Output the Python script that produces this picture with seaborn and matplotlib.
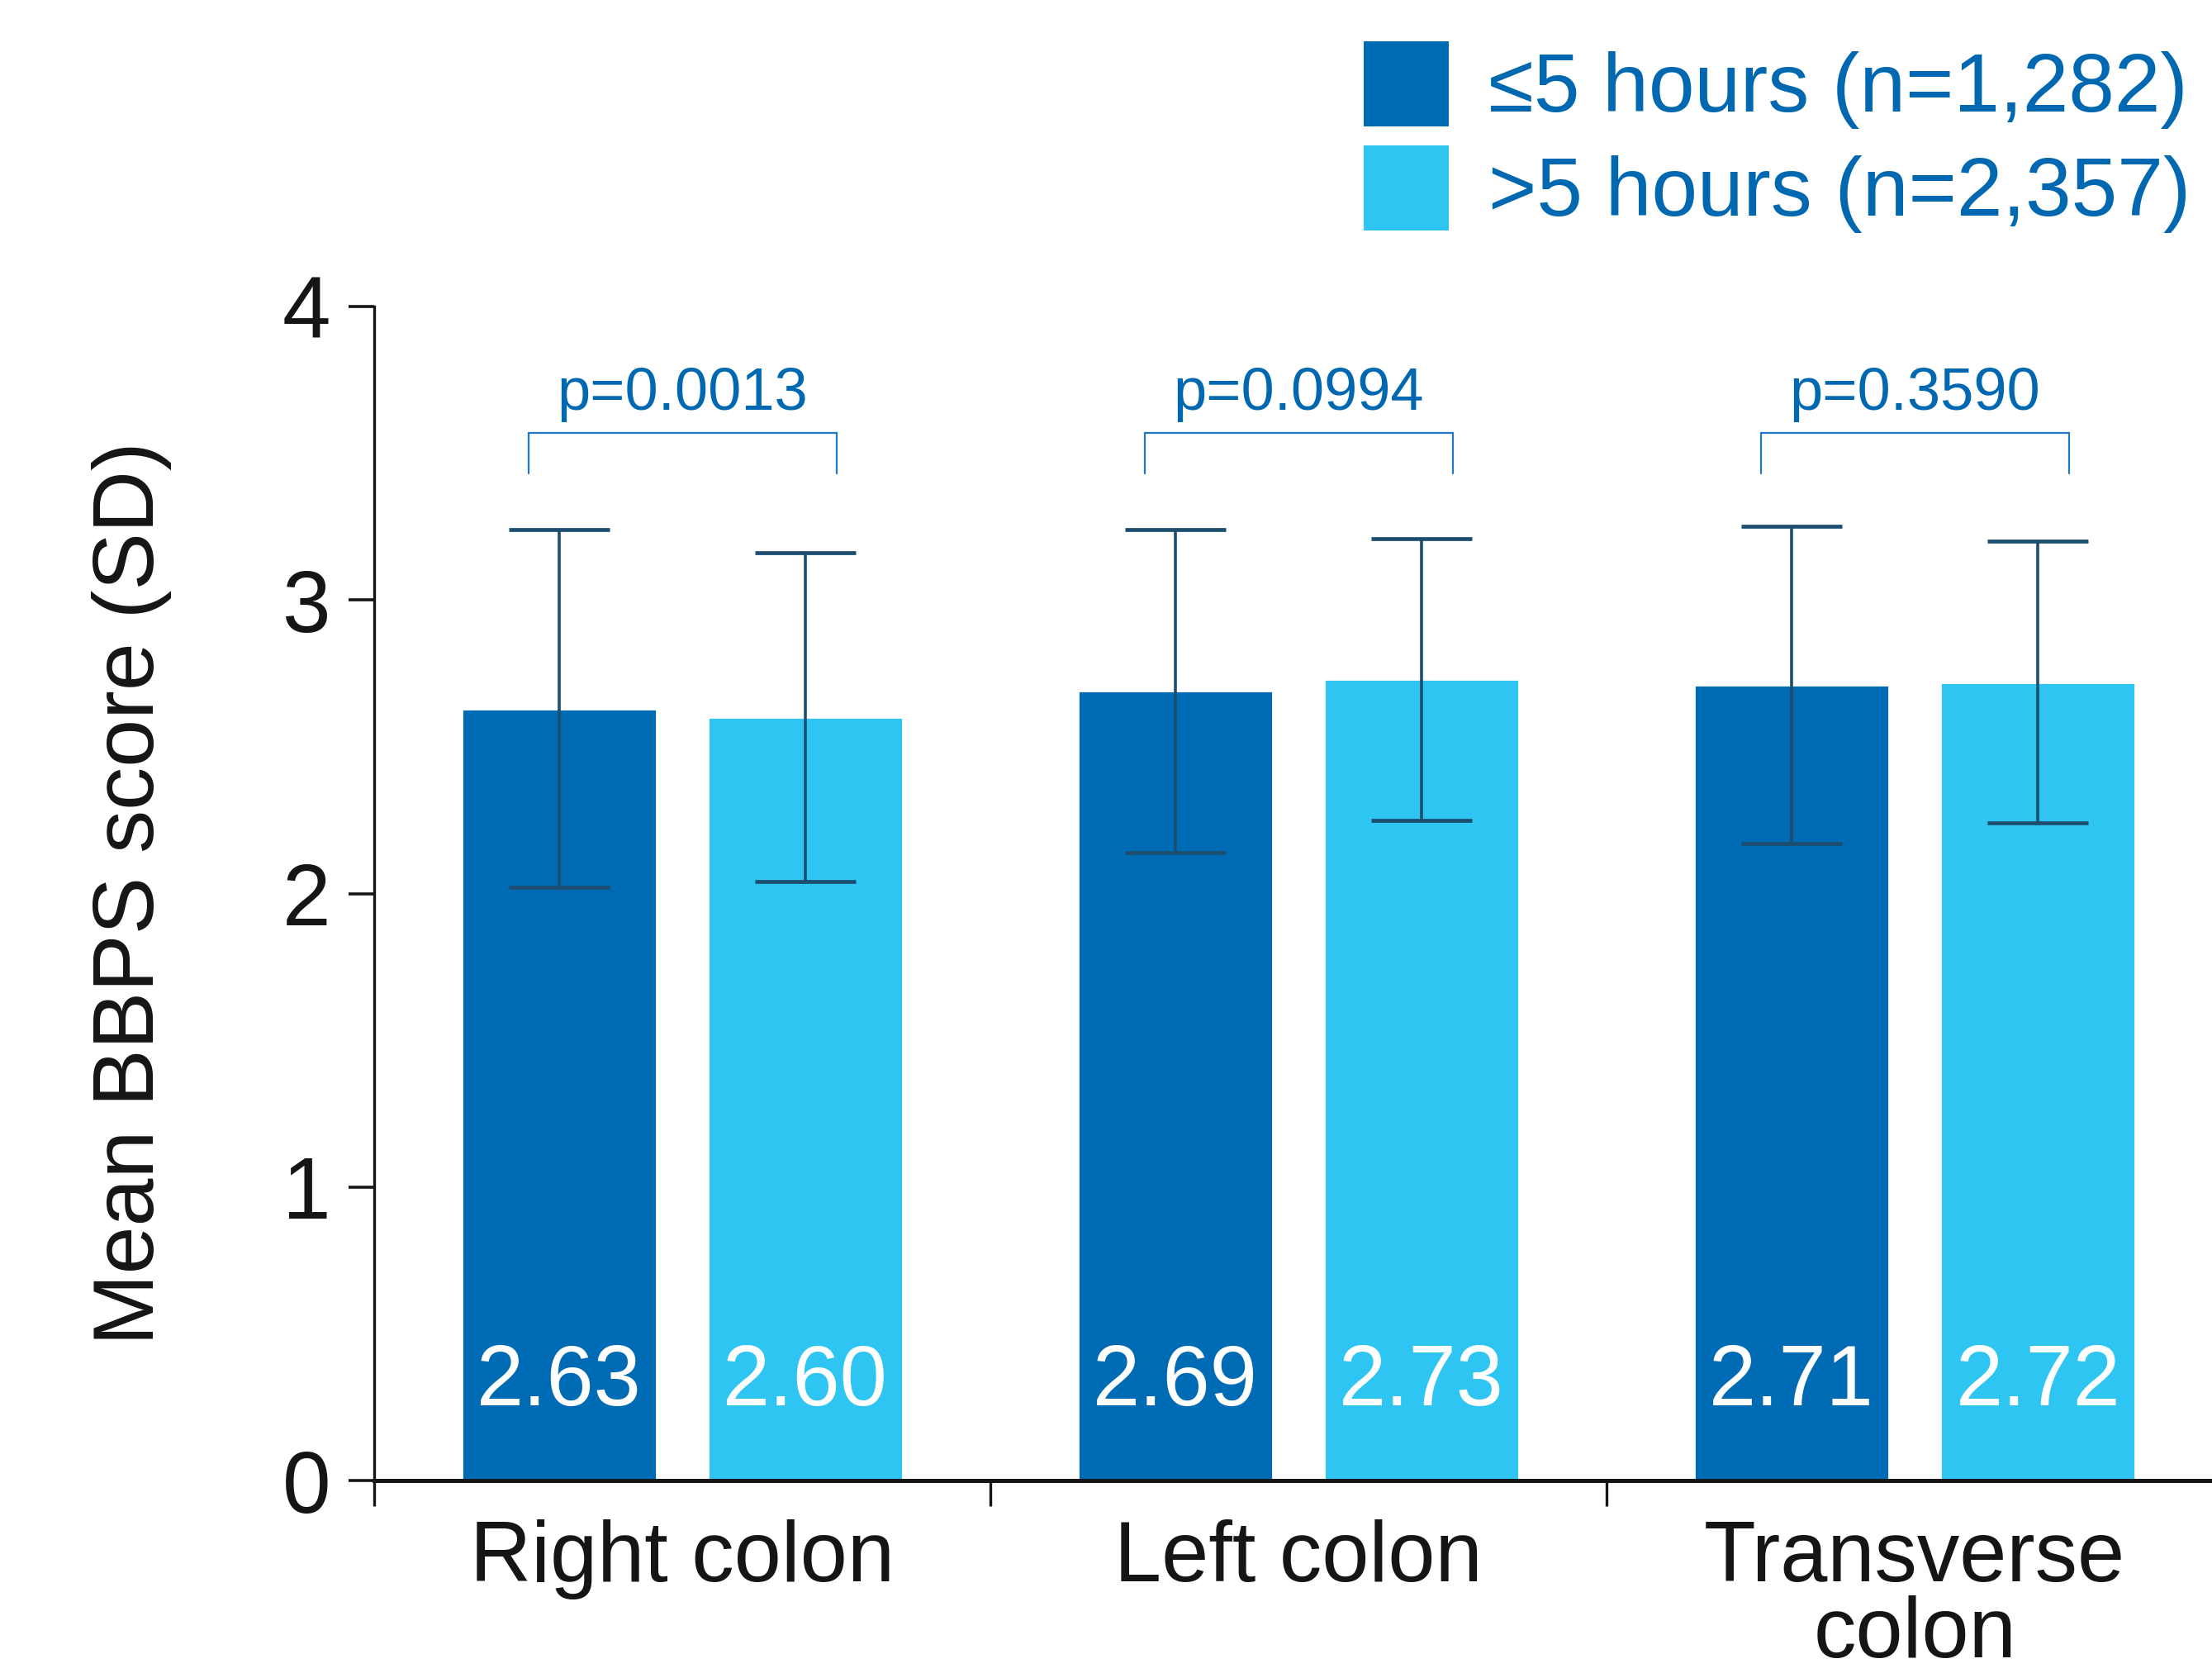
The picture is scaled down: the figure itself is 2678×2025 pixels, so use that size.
import matplotlib
matplotlib.use("Agg")
import matplotlib.pyplot as plt
import matplotlib.patches as mpatches
import seaborn as sns
import pandas as pd
import numpy as np

# ---- data ----
regions = ["Right colon", "Left colon", "Transverse colon"]
region_labels = ["Right colon", "Left colon", "Transverse\ncolon"]
groups = ["≤5 hours (n=1,282)", ">5 hours (n=2,357)"]
mean_le5 = [2.63, 2.69, 2.71]
mean_gt5 = [2.60, 2.73, 2.72]
sd_le5 = [0.61, 0.55, 0.54]
sd_gt5 = [0.56, 0.48, 0.48]
p_values = ["p=0.0013", "p=0.0994", "p=0.3590"]

colors = ["#006BB5", "#2EC5F3"]
err_color = "#1B4E6F"
text_blue = "#0068B0"

df = pd.DataFrame({
    "region": regions * 2,
    "group": [groups[0]] * 3 + [groups[1]] * 3,
    "mean": mean_le5 + mean_gt5,
    "sd": sd_le5 + sd_gt5,
})

sns.set_theme(style="white")
plt.rcParams["font.family"] = ["Liberation Sans", "DejaVu Sans"]

W, H, DPI = 2678, 2025, 200
fig = plt.figure(figsize=(W / DPI, H / DPI), dpi=DPI)
ax = fig.add_axes([453 / W, 1 - 1792 / H, 1 - 453 / W, (1792 - 371) / H])

sns.barplot(data=df, x="region", y="mean", hue="group", order=regions,
            hue_order=groups, palette=colors, width=0.8, gap=0.21,
            errorbar=None, legend=False, saturation=1, ax=ax, zorder=2)

bar_containers = list(ax.containers)
# error bars + value labels
for gi, cont in enumerate(bar_containers):
    sub = df[df["group"] == groups[gi]].set_index("region").loc[regions]
    xs = [b.get_x() + b.get_width() / 2 for b in cont]
    ys = sub["mean"].values
    sds = sub["sd"].values
    ax.errorbar(xs, ys, yerr=sds, fmt="none", ecolor=err_color,
                elinewidth=1.3, capsize=22, capthick=1.7, zorder=3)
    for x, y in zip(xs, ys):
        ax.text(x, 0.33, f"{y:.2f}", color="white", ha="center", va="center",
                fontsize=37, zorder=4)

# p-value brackets
for i, p in enumerate(p_values):
    x0, x1 = i - 0.25, i + 0.25
    ax.plot([x0, x0, x1, x1], [3.43, 3.57, 3.57, 3.43], color="#1F78C8",
            lw=0.8, solid_joinstyle="miter", zorder=3)
    ax.text(i, 3.70, p, color=text_blue, ha="center", va="center", fontsize=26)

ax.set_ylim(0, 4)
ax.set_xlim(-0.5, (W - 453) / 746 - 0.5)
ax.set_yticks([0, 1, 2, 3, 4])
ax.set_yticklabels(["0", "1", "2", "3", "4"])
ax.set_xticks(range(3))
ax.set_xticklabels(region_labels, linespacing=0.93)
ax.set_xticks([-0.5, 0.5, 1.5], minor=True)
ax.tick_params(axis="x", which="major", length=0, pad=17, labelsize=37,
               labelcolor="#151515")
ax.tick_params(axis="x", which="minor", length=11, width=1.2,
               direction="out", color="#151515", bottom=True)
ax.tick_params(axis="y", which="major", length=11, width=1.3, pad=8,
               labelsize=38, labelcolor="#151515", color="#151515", left=True)
ax.set_xlabel("")
ax.set_ylabel("Mean BBPS score (SD)", fontsize=37.5, color="#151515", labelpad=48)

sns.despine(ax=ax, top=True, right=True)
ax.spines["left"].set_linewidth(1.2)
ax.spines["left"].set_color("#151515")
ax.spines["bottom"].set_linewidth(1.8)
ax.spines["bottom"].set_color("#151515")

# legend
handles = [mpatches.Patch(facecolor=c, edgecolor="none", label=g)
           for c, g in zip(colors, groups)]
leg = fig.legend(handles=handles, loc="upper right",
                 bbox_to_anchor=(2652 / W, 1 - 50 / H), frameon=False,
                 fontsize=36, handlelength=1.03, handleheight=1.2,
                 handletextpad=0.48, labelspacing=0.2, borderaxespad=0,
                 borderpad=0)
for t in leg.get_texts():
    t.set_color(text_blue)

fig.savefig("out.png", dpi=DPI)
